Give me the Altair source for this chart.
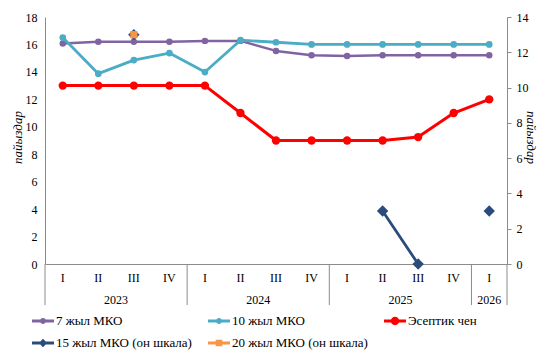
import altair as alt
import pandas as pd

years = ["2023"] * 4 + ["2024"] * 4 + ["2025"] * 4 + ["2026"]
quarters = ["I", "II", "III", "IV"] * 3 + ["I"]
cats = [f"{y}-{q}" for y, q in zip(years, quarters)]

s7, s10, sr, s15, s20 = ("7 жыл МКО", "10 жыл МКО", "Эсептик чен",
                         "15 жыл МКО (он шкала)", "20 жыл МКО (он шкала)")
series_names = [s7, s10, sr, s15, s20]
colors = ["#8064A2", "#4BACC6", "#FF0000", "#2A4C7D", "#F79646"]

mko7 = [16.07, 16.19, 16.19, 16.19, 16.26, 16.26, 15.53, 15.22, 15.15, 15.22, 15.22, 15.22, 15.22]
mko10 = [16.5, 13.87, 14.86, 15.37, 13.99, 16.31, 16.16, 16.0, 16.0, 16.0, 16.0, 16.0, 16.0]
rate = [13, 13, 13, 13, 13, 11.0, 9.0, 9.0, 9.0, 9.0, 9.25, 11.0, 12.0]
mko15 = [None, None, 13, None, None, None, None, None, None, 3, 0, None, 3]
mko20 = [None, None, 13, None, None, None, None, None, None, None, None, None, None]

year_labels = ["2023", "2024", "2025"]
year_anchor = ["2023-II", "2024-II", "2025-II"]
last_year = ["2026"]
last_anchor = ["2026-I"]
sep_starts = ["2023-I", "2024-I", "2025-I", "2026-I"]
sep_end = ["2026-I"]


def long(name, vals):
    rows, seg = [], 0
    for c, v in zip(cats, vals):
        if v is None:
            seg += 1
            continue
        rows.append({"cat": c, "value": v, "series": name, "seg": f"{name}-{seg}"})
    return pd.DataFrame(rows)


FONT = "Liberation Serif, Times New Roman, DejaVu Serif, serif"
GRAY = "#8c8c8c"

xscale = alt.Scale(type="band", domain=cats, paddingInner=0, paddingOuter=0)
x_axis = alt.Axis(title=None, labelExpr="split(datum.value, '-')[1]", ticks=False,
                  labelPadding=8, labelAngle=0, labelFontSize=12, labelFont=FONT,
                  labelColor="black", domainColor=GRAY)


def X(bp=0.5):
    return alt.X("cat:O", scale=xscale, axis=x_axis, bandPosition=bp)


left_y = alt.Y("value:Q", scale=alt.Scale(domain=[0, 18], nice=False),
               axis=alt.Axis(values=list(range(0, 19, 2)), ticks=False, labelPadding=8,
                             labelFont=FONT, labelFontSize=12, labelColor="black",
                             domainColor=GRAY,
                             title="пайыздар", titleFont=FONT, titleFontStyle="italic",
                             titleFontWeight="normal", titleColor="black",
                             titleFontSize=13, titleX=-28, titleY=120, titleAngle=-90,
                             titleAlign="center", titleBaseline="middle"))
right_y = alt.Y("value:Q", scale=alt.Scale(domain=[0, 14], nice=False),
                axis=alt.Axis(orient="right", values=list(range(0, 15, 2)), tickSize=4,
                              labelPadding=5, labelFont=FONT, labelFontSize=12,
                              labelColor="black", domainColor=GRAY, tickColor=GRAY,
                              title="пайыздар", titleFont=FONT, titleFontStyle="italic",
                              titleFontWeight="normal", titleColor="black",
                              titleFontSize=13, titleX=23, titleY=120,
                              titleAngle=90, titleAlign="center", titleBaseline="middle"))


def series_layers(df, y, color, width, shape, size):
    line = alt.Chart(df).mark_line(color=color, strokeWidth=width, strokeCap="round",
                                   strokeJoin="round").encode(x=X(), y=y, detail="seg:N")
    pts = alt.Chart(df).mark_point(filled=True, opacity=1, color=color, shape=shape,
                                   size=size).encode(x=X(), y=y)
    return [line, pts]


left = alt.layer(
    *series_layers(long(s7, mko7), left_y, colors[0], 2.5, "circle", 42),
    *series_layers(long(s10, mko10), left_y, colors[1], 2.8, "circle", 45),
    *series_layers(long(sr, rate), left_y, colors[2], 3, "circle", 70),
)
right = alt.layer(
    *series_layers(long(s15, mko15), right_y, colors[3], 2.8, "diamond", 130),
    *series_layers(long(s20, mko20), right_y, colors[4], 2.5, "square", 52),
)

sep1 = alt.Chart(pd.DataFrame({"cat": sep_starts})).mark_rule(color=GRAY, strokeWidth=1).encode(
    x=X(0), y=alt.value(247), y2=alt.value(288))
sep2 = alt.Chart(pd.DataFrame({"cat": sep_end})).mark_rule(color=GRAY, strokeWidth=1).encode(
    x=X(1), y=alt.value(247), y2=alt.value(288))

yr1 = alt.Chart(pd.DataFrame({"cat": year_anchor, "label": year_labels})).mark_text(
    font=FONT, fontSize=12, color="black", baseline="middle").encode(
    x=X(1), y=alt.value(283), text="label:N")
yr2 = alt.Chart(pd.DataFrame({"cat": last_anchor, "label": last_year})).mark_text(
    font=FONT, fontSize=12, color="black", baseline="middle").encode(
    x=X(0.5), y=alt.value(283), text="label:N")


def circ(r):
    return (f"M-1,-0.13L1,-0.13L1,0.13L-1,0.13Z "
            f"M{r},0A{r},{r} 0 1,1 -{r},0A{r},{r} 0 1,1 {r},0Z")


shapes = [circ(0.27), circ(0.27), circ(0.38),
          "M-1,-0.13L1,-0.13L1,0.13L-1,0.13Z M0,-0.38L0.38,0L0,0.38L-0.38,0Z",
          "M-1,-0.13L1,-0.13L1,0.13L-1,0.13Z M-0.3,-0.3L0.3,-0.3L0.3,0.3L-0.3,0.3Z"]
leg = alt.Legend(orient="none", legendX=-13, legendY=293, columns=3, direction="horizontal",
                 title=None, labelFont=FONT, labelFontSize=13, labelColor="black",
                 symbolSize=484, symbolStrokeWidth=0, symbolOpacity=1, rowPadding=4,
                 columnPadding=16, labelOffset=2, labelLimit=300)
legend_layer = alt.Chart(pd.DataFrame({"series": series_names})).mark_point(
    filled=True, opacity=0, size=484).encode(
    x=X(),
    color=alt.Color("series:N", scale=alt.Scale(domain=series_names, range=colors), legend=leg),
    shape=alt.Shape("series:N", scale=alt.Scale(domain=series_names, range=shapes), legend=leg),
).transform_calculate(cat="'2023-I'")

chart = alt.layer(left, right, sep1, sep2, yr1, yr2, legend_layer).resolve_scale(
    y="independent").properties(
    width=462, height=247, autosize="none",
    padding={"left": 45, "top": 17, "right": 30, "bottom": 88},
    background="white",
).configure_view(stroke=None).configure_axis(grid=False)

chart.save("out.html", embed_options={"renderer": "svg", "actions": False})
